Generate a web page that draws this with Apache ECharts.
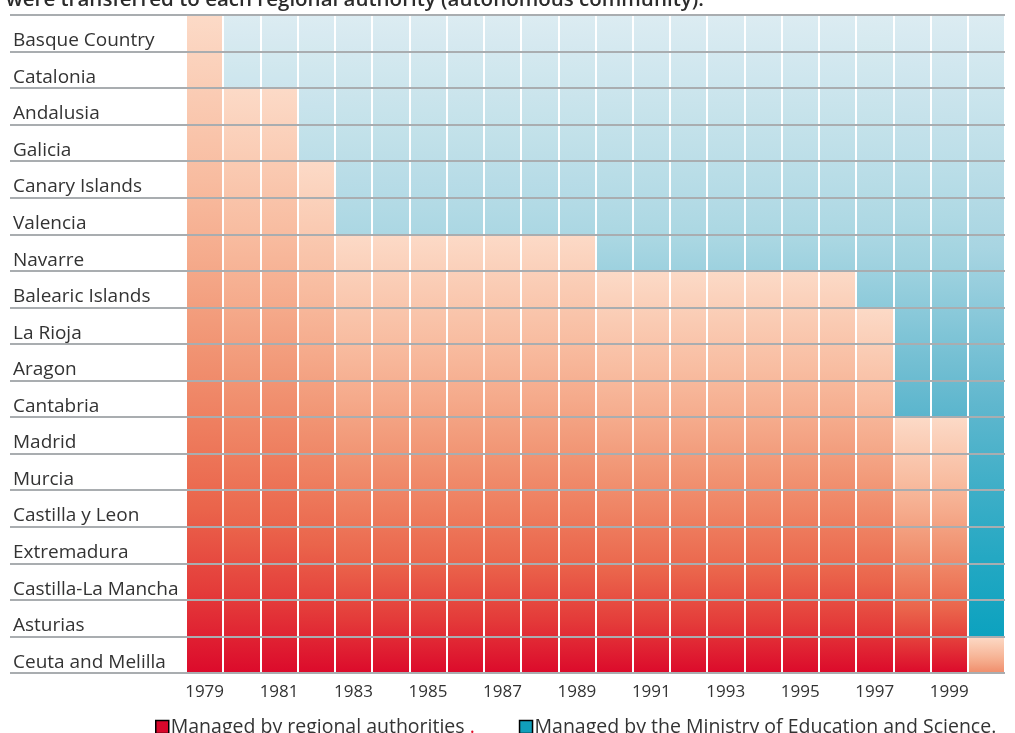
<!DOCTYPE html>
<html>
<head>
<meta charset="utf-8">
<script src="https://cdn.jsdelivr.net/npm/echarts@6/dist/echarts.min.js"></script>
<style>
html,body{margin:0;padding:0;background:#fff;}
#chart{width:1015px;height:733px;}
</style>
</head>
<body>
<div id="chart"></div>
<script>
// ---- data ----
const regions = ['Basque Country','Catalonia','Andalusia','Galicia','Canary Islands','Valencia','Navarre','Balearic Islands','La Rioja','Aragon','Cantabria','Madrid','Murcia','Castilla y Leon','Extremadura','Castilla-La Mancha','Asturias','Ceuta and Melilla'];
const years = ['1979','1980','1981','1982','1983','1984','1985','1986','1987','1988','1989','1990','1991','1992','1993','1994','1995','1996','1997','1998','1999','2000'];
// first year each row turns blue (null = never)
const firstBlueYear = [1980,1980,1982,1982,1983,1983,1990,1997,1998,1998,1998,2000,2000,2000,2000,2000,2000,null];
const seriesNames = ['Managed by regional authorities', 'Managed by the Ministry of Education and Science'];

// ---- derived counts per year ----
const orangeCounts = years.map(y => firstBlueYear.filter(f => f === null || f > +y).length);
const blueCounts = orangeCounts.map(n => regions.length - n);

// ---- colour helpers ----
const orangeStops = [[0,'#fcdac7'],[0.3,'#f7b698'],[0.55,'#f08d6b'],[0.8,'#e85a43'],[1,'#dc0a2b']];
const blueStops = [[0,'#dcecf2'],[0.35,'#a9d6e2'],[0.6,'#5db6cd'],[0.8,'#2aa9c4'],[1,'#009fbd']];
function hex2rgb(h){return [1,3,5].map(i=>parseInt(h.substr(i,2),16));}
function sample(stops,t){
  t=Math.max(0,Math.min(1,t));
  for(let i=1;i<stops.length;i++){
    if(t<=stops[i][0]){
      const a=stops[i-1],b=stops[i];const f=(t-a[0])/(b[0]-a[0]);
      const ca=hex2rgb(a[1]),cb=hex2rgb(b[1]);
      return 'rgb('+ca.map((v,k)=>Math.round(v+(cb[k]-v)*f)).join(',')+')';
    }
  }
  return stops[stops.length-1][1];
}
function grad(stops,t0,t1){
  const cs=[];
  for(let k=0;k<=8;k++){cs.push({offset:k/8,color:sample(stops,t0+(t1-t0)*k/8)});}
  return {type:'linear',x:0,y:0,x2:0,y2:1,colorStops:cs};
}

const orangeData = orangeCounts.map(n => ({value:n, itemStyle:{color:grad(orangeStops,0,n>=2?1:0.55)}}));
const blueData = blueCounts.map(n => ({value:n, itemStyle:{color:grad(blueStops,0,n/regions.length)}}));

const chart = echarts.init(document.getElementById('chart'));
chart.setOption({
  animation:false,
  title:{
    text:'were transferred to each regional authority (autonomous community).',
    left:1, top:-15,
    textStyle:{fontFamily:'Open Sans',fontSize:20.5,fontWeight:600,color:'#2b2b2b'}
  },
  legend:{
    left:150, top:712, itemWidth:13, itemHeight:13, itemGap:44,
    icon:'rect',
    data:[
      {name:seriesNames[0], itemStyle:{color:'#d9072b',borderColor:'#000',borderWidth:1.5}},
      {name:seriesNames[1], itemStyle:{color:'#109fba',borderColor:'#000',borderWidth:1.5}}
    ],
    formatter: n => n === seriesNames[0] ? n + '{r| .}' : n + '.',
    textStyle:{fontFamily:'Open Sans',fontSize:19.5,color:'#333',padding:[0,0,0,-3],
      rich:{r:{fontFamily:'Open Sans',fontSize:19.5,color:'#e0102a'}}}
  },
  grid:{left:186,right:10,top:15,bottom:60,containLabel:false},
  xAxis:{
    type:'category', data:years, z:4,
    axisLine:{show:false}, axisTick:{show:false},
    axisLabel:{interval:1, margin:11, fontFamily:'Open Sans', fontSize:17, color:'#333'},
    splitLine:{show:true, interval:0, lineStyle:{color:'#ffffff', width:2}}
  },
  yAxis:[
    {
      type:'category', data:regions, inverse:true, z:5,
      axisLine:{show:false},
      axisTick:{show:true, length:176, interval:0, lineStyle:{color:'#a9adb0', width:2}},
      axisLabel:{interval:0, margin:173, align:'left', verticalAlign:'top', lineHeight:15, fontFamily:'Open Sans', fontSize:19, color:'#333'},
      splitLine:{show:true, interval:0, lineStyle:{color:'#a9adb0', width:2}}
    },
    {type:'value', min:0, max:regions.length, show:false, splitLine:{show:false}}
  ],
  series:[
    {name:seriesNames[0], type:'bar', stack:'all', yAxisIndex:1, barCategoryGap:'0%', itemStyle:{color:'#d9072b'}, data:orangeData},
    {name:seriesNames[1], type:'bar', stack:'all', yAxisIndex:1, barCategoryGap:'0%', itemStyle:{color:'#109fba'}, data:blueData}
  ]
});
</script>
</body>
</html>
